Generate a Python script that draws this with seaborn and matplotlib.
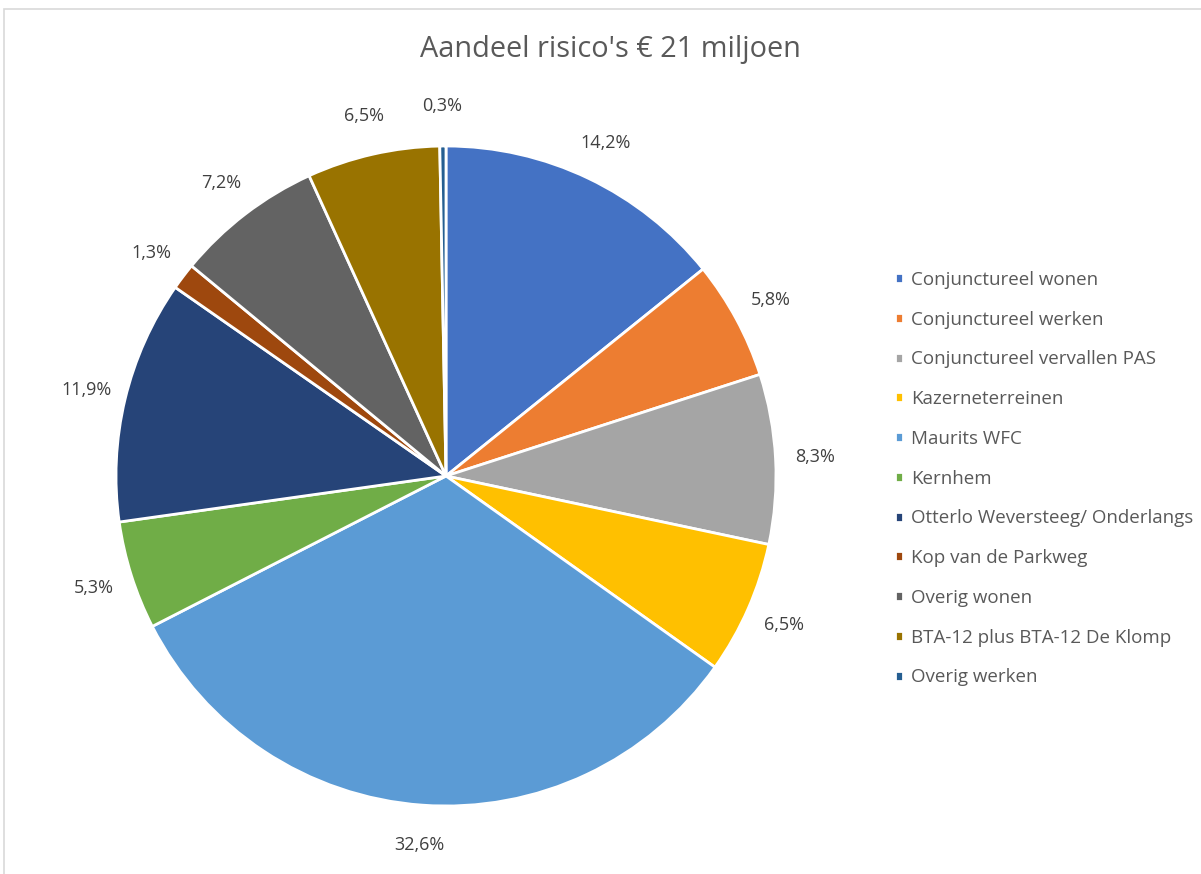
import matplotlib
matplotlib.use("Agg")
import matplotlib.pyplot as plt
import seaborn as sns
from matplotlib.patches import Rectangle

categories = [
    "Conjunctureel wonen",
    "Conjunctureel werken",
    "Conjunctureel vervallen PAS",
    "Kazerneterreinen",
    "Maurits WFC",
    "Kernhem",
    "Otterlo Weversteeg/ Onderlangs",
    "Kop van de Parkweg",
    "Overig wonen",
    "BTA-12 plus BTA-12 De Klomp",
    "Overig werken",
]
values = [14.2, 5.8, 8.3, 6.5, 32.6, 5.3, 11.9, 1.3, 7.2, 6.5, 0.3]
title = "Aandeel risico's € 21 miljoen"
colors = ["#4472C4", "#ED7D31", "#A5A5A5", "#FFC000", "#5B9BD5", "#70AD47",
          "#264478", "#9E480E", "#636363", "#997300", "#255E91"]

sns.set_theme(style="white")
plt.rcParams["font.family"] = ["Open Sans", "DejaVu Sans"]
palette = sns.color_palette(colors)

W, H = 1201, 874
fig = plt.figure(figsize=(W / 100, H / 100), dpi=100)
fig.patch.set_facecolor("white")

# chart area border
fig.patches.append(Rectangle((4 / W, -0.1), 1.2, (874 - 9) / H + 0.1,
                             transform=fig.transFigure, fill=False,
                             edgecolor="#D9D9D9", linewidth=1.2))

cx, cy, r = 446, 476, 330
ax = fig.add_axes([(cx - r) / W, (H - cy - r) / H, 2 * r / W, 2 * r / H])

pct_labels = [f"{v:.1f}".replace(".", ",") + "%" for v in values]
wedges, texts = ax.pie(values, colors=palette, startangle=90, counterclock=False,
                       labels=pct_labels, labeldistance=1.12,
                       wedgeprops=dict(edgecolor="white", linewidth=2),
                       textprops=dict(color="#404040", fontsize=13))
for t in texts:
    t.set_ha("center")
ax.set_xlim(-1, 1)
ax.set_ylim(-1, 1)
ax.set_aspect("equal")
ax.axis("off")

fig.text(610 / W, 1 - 49 / H, title, ha="center", va="center",
         fontsize=20.8, color="#595959")

leg = fig.legend(wedges, categories, loc="upper left",
                 bbox_to_anchor=(878 / W, 1 - 254 / H), frameon=False,
                 handlelength=0.45, handleheight=0.45, handletextpad=0.4,
                 labelspacing=1.16, fontsize=13.5)
for t in leg.get_texts():
    t.set_color("#595959")

fig.savefig("out.png", dpi=100, facecolor="white")
